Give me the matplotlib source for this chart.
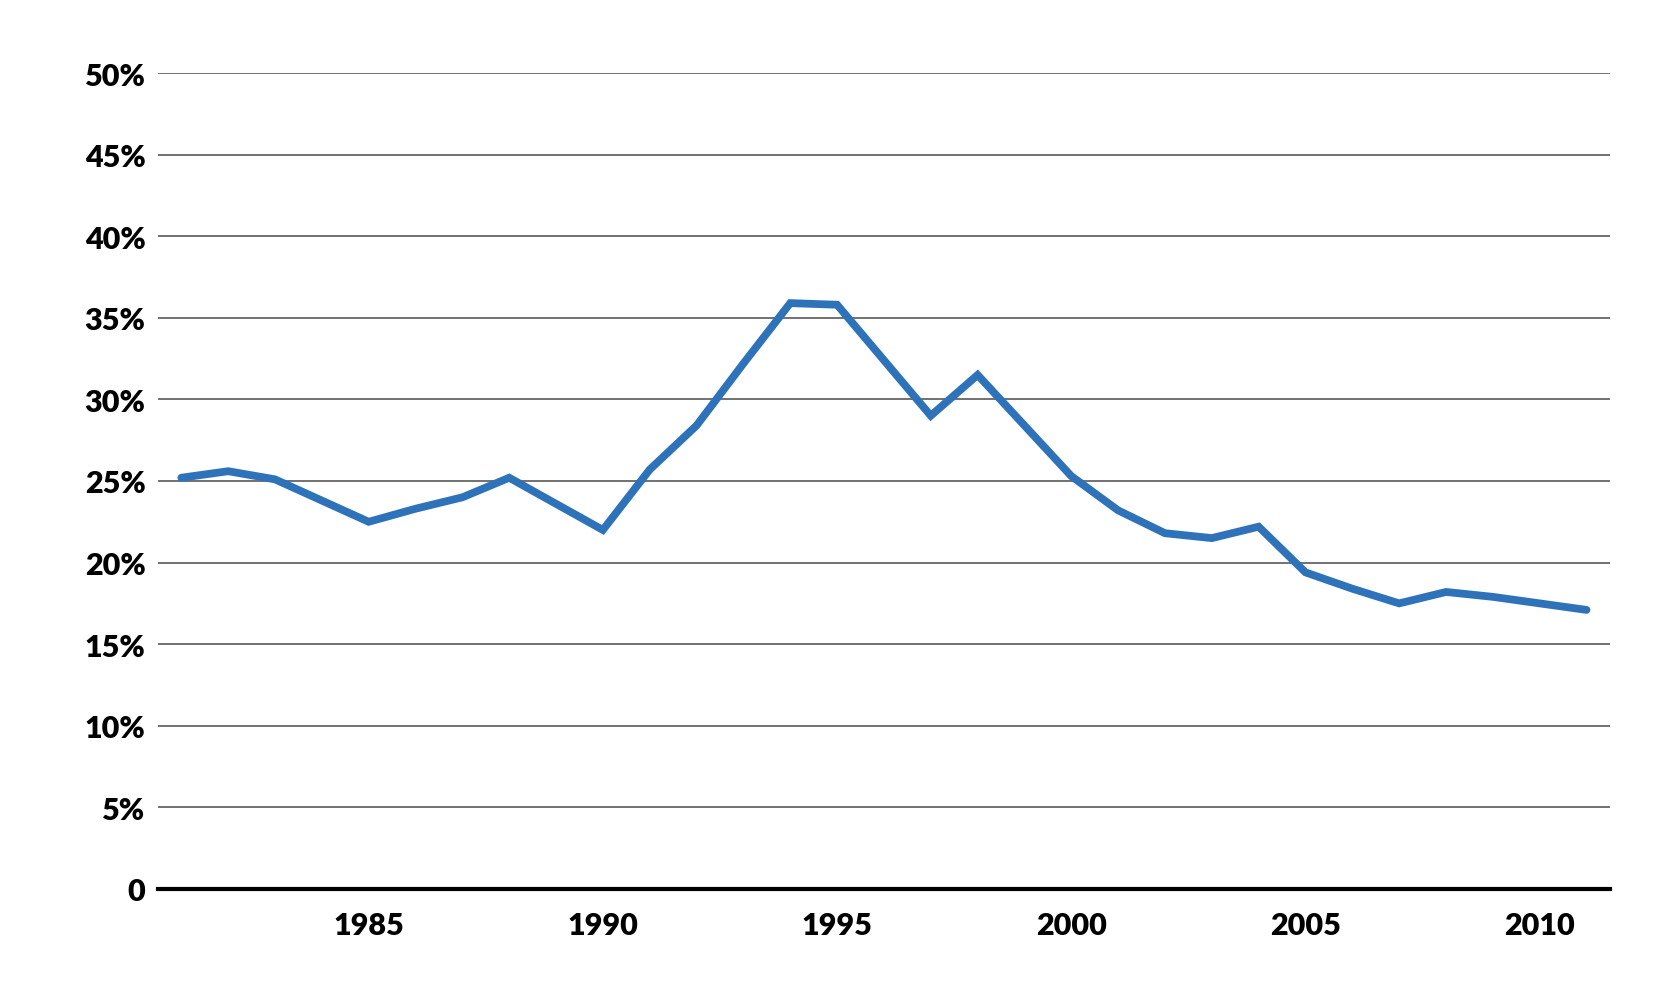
import matplotlib.pyplot as plt
from matplotlib.ticker import FuncFormatter

years = list(range(1981, 2012))
share = [25.2, 25.6, 25.1, 23.8, 22.5, 23.3, 24.0, 25.2, 23.6, 22.0,
         25.7, 28.4, 32.2, 35.9, 35.8, 32.4, 29.0, 31.5, 28.4, 25.3,
         23.2, 21.8, 21.5, 22.2, 19.4, 18.4, 17.5, 18.2, 17.9, 17.5,
         17.1]
x_ticks = [1985, 1990, 1995, 2000, 2005, 2010]
y_ticks = list(range(0, 55, 5))

plt.rcParams['font.family'] = ['Lato', 'DejaVu Sans']
plt.rcParams['font.weight'] = 'heavy'
plt.rcParams['font.style'] = 'normal'

fig = plt.figure(figsize=(16.8, 10.03), dpi=100)
ax = fig.add_axes([0.094, 0.1127, 0.8643, 0.8135])

ax.plot(years, share, color='#2E73BA', lw=5.6, solid_joinstyle='miter',
        solid_capstyle='round', zorder=3)

ax.set_xlim(1980.5, 2011.5)
ax.set_ylim(0, 50)
ax.set_xticks(x_ticks)
ax.set_yticks(y_ticks)
ax.yaxis.set_major_formatter(FuncFormatter(lambda v, p: '0' if v == 0 else f'{int(v)}%'))

ax.grid(axis='y', color='#4a4a4a', lw=1.1)
ax.set_axisbelow(True)
for s in ['top', 'right', 'left']:
    ax.spines[s].set_visible(False)
ax.spines['bottom'].set_linewidth(3)
ax.spines['bottom'].set_color('black')
ax.spines['bottom'].set_zorder(4)

ax.tick_params(axis='both', length=0, labelsize=22, colors='black')
ax.tick_params(axis='y', pad=9)
ax.tick_params(axis='x', pad=16)

fig.savefig('out.png', dpi=100)
